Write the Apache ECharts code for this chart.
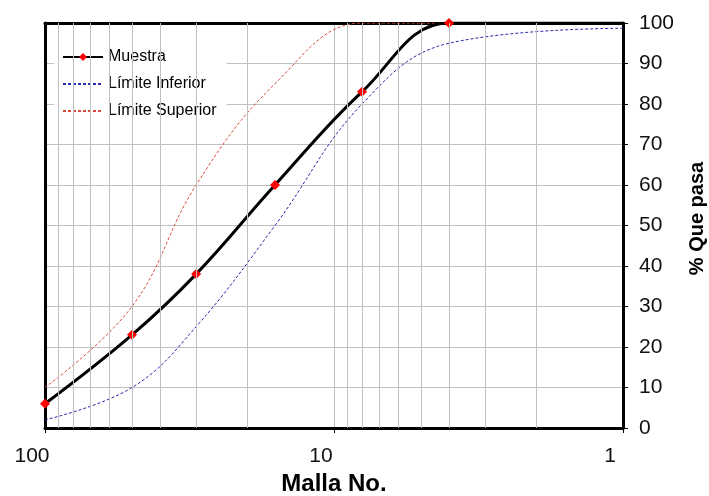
<!DOCTYPE html>
<html>
<head>
<meta charset="utf-8">
<script src="https://cdn.jsdelivr.net/npm/echarts@6/dist/echarts.min.js"></script>
<style>html,body{margin:0;padding:0;background:#fff}#c{width:709px;height:496px}</style>
</head>
<body>
<div id="c"></div>
<script>
// Data
var muestraX = [100, 50, 30, 16, 8, 4, 1];
var muestraY = [6, 23, 38, 60, 83, 100, 100];
var inferiorX = [100, 50, 30, 16, 8, 4, 1];
var inferiorY = [2, 10, 25, 50, 80, 95, 98.7];
var superiorX = [100, 50, 30, 16, 8, 4, 1];
var superiorY = [10, 30, 60, 85, 100, 100, 100];
var minorGridX = [90, 80, 70, 60, 50, 40, 30, 20, 9, 8, 7, 6, 5, 4, 3, 2];
var seriesNames = ['Muestra', 'Límite Inferior', 'Límite Superior'];

function pairs(xs, ys) { return xs.map(function (x, i) { return [x, ys[i]]; }); }

var FONT = '"Liberation Sans", Arial, sans-serif';
var chart = echarts.init(document.getElementById('c'), null, {renderer: 'canvas'});

var muestraData = pairs(muestraX, muestraY).map(function (p, i) {
  return i === muestraX.length - 1 ? {value: p, symbol: 'none'} : p;
});

var hiddenIcon = {color: 'rgba(0,0,0,0)', borderWidth: 0};

chart.setOption({
  animation: false,
  backgroundColor: '#fff',
  textStyle: {fontFamily: FONT},
  grid: {left: 45, right: 86, top: 23, bottom: 68, outerBoundsMode: 'none', containLabel: false},
  legend: {
    orient: 'vertical', left: 54, top: 41,
    backgroundColor: '#fff',
    padding: [7, 10, 7, 8],
    itemWidth: 40, itemHeight: 10, itemGap: 9,
    textStyle: {fontSize: 16, color: '#000', fontFamily: FONT, lineHeight: 18, height: 18},
    data: [
      {name: seriesNames[0]},
      {name: seriesNames[1], itemStyle: hiddenIcon},
      {name: seriesNames[2], itemStyle: hiddenIcon}
    ]
  },
  xAxis: [{
    type: 'log', logBase: 10, min: 1, max: 100, inverse: true,
    position: 'bottom',
    name: 'Malla No.', nameLocation: 'middle', nameGap: 42,
    nameTextStyle: {fontSize: 24, fontWeight: 'bold', color: '#000', fontFamily: FONT},
    axisLine: {show: true, onZero: false, lineStyle: {color: '#000', width: 3}},
    axisTick: {show: true, length: 5, lineStyle: {color: '#000'}},
    axisLabel: {fontSize: 21, color: '#111', margin: 18, padding: [0, 26, 0, 0], fontFamily: FONT,
      formatter: function (v) { return String(Math.round(v)); }},
    splitLine: {show: true, lineStyle: {color: '#c0c0c0', width: 1}}
  }, {
    type: 'log', logBase: 10, min: 1, max: 100, inverse: true,
    position: 'top',
    axisLine: {show: true, onZero: false, lineStyle: {color: '#000', width: 3}},
    axisTick: {show: false}, axisLabel: {show: false}, splitLine: {show: false}
  }],
  yAxis: [{
    type: 'value', min: 0, max: 100, interval: 10, position: 'right',
    name: '% Que pasa', nameLocation: 'middle', nameGap: 64, nameRotate: 90,
    nameTextStyle: {fontSize: 20, fontWeight: 'bold', color: '#000', fontFamily: FONT, padding: [0, 0, 0, 14]},
    axisLine: {show: true, onZero: false, lineStyle: {color: '#000', width: 3}},
    axisTick: {show: true, inside: false, length: 5, lineStyle: {color: '#000'}},
    axisLabel: {fontSize: 21, color: '#111', margin: 16, fontFamily: FONT},
    splitLine: {show: true, lineStyle: {color: '#c0c0c0', width: 1}}
  }, {
    type: 'value', min: 0, max: 100, interval: 10, position: 'left',
    axisLine: {show: true, onZero: false, lineStyle: {color: '#000', width: 3}},
    axisTick: {show: false}, axisLabel: {show: false}, splitLine: {show: false}
  }],
  series: [{
    name: 'grid-minor', type: 'line', data: [], z: 1, silent: true,
    markLine: {
      silent: true, symbol: 'none', label: {show: false},
      lineStyle: {color: '#c0c0c0', width: 1, type: 'solid'},
      emphasis: {disabled: true},
      data: minorGridX.map(function (v) { return {xAxis: v}; })
    }
  }, {
    name: seriesNames[1], type: 'line', smooth: 0.4, symbol: 'none',
    data: pairs(inferiorX, inferiorY), z: 3,
    lineStyle: {color: '#2b2bb0', width: 1, type: [3, 2]},
    itemStyle: {color: '#2b2bb0'}
  }, {
    name: seriesNames[2], type: 'line', smooth: 0.4, symbol: 'none',
    data: pairs(superiorX, superiorY), z: 3,
    lineStyle: {color: '#d94a3a', width: 1, type: [3, 2]},
    itemStyle: {color: '#d94a3a'}
  }, {
    name: seriesNames[0], type: 'line', smooth: 0.4,
    symbol: 'diamond', symbolSize: 10, showAllSymbol: true,
    data: muestraData, z: 4,
    lineStyle: {color: '#000', width: 3},
    itemStyle: {color: '#ff0000', borderWidth: 0}
  }]
});
</script>
</body>
</html>
